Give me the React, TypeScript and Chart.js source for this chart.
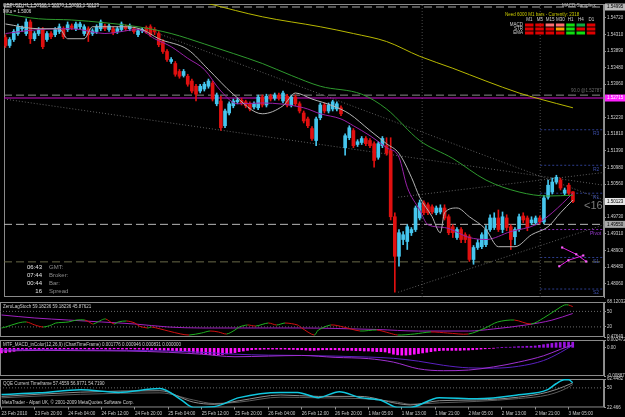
import { useEffect, useRef } from 'react';
import { Chart, registerables } from 'chart.js';

Chart.register(...registerables);

// ---------------- data ----------------
const tickLabels = ['23 Feb 2010', '23 Feb 20:00', '24 Feb 04:00', '24 Feb 12:00', '24 Feb 20:00', '25 Feb 04:00', '25 Feb 12:00', '25 Feb 20:00', '26 Feb 04:00', '26 Feb 12:00', '26 Feb 20:00', '1 Mar 05:00', '1 Mar 13:00', '1 Mar 21:00', '2 Mar 05:00', '2 Mar 13:00', '2 Mar 21:00', '3 Mar 05:00'];

const opens = [
  1.5423, 1.5403, 1.5418, 1.5433, 1.5445, 1.5433, 1.5462, 1.5420, 1.5433, 1.5443,
  1.5418, 1.5433, 1.5430, 1.5438, 1.5445, 1.5443, 1.5452, 1.5445, 1.5450, 1.5433,
  1.5445, 1.5433, 1.5438, 1.5445, 1.5452, 1.5443, 1.5445, 1.5438, 1.5443, 1.5450,
  1.5445, 1.5445, 1.5430, 1.5440, 1.5448, 1.5450, 1.5443, 1.5433, 1.5413, 1.5388,
  1.5363, 1.5358, 1.5338, 1.5328, 1.5326, 1.5314, 1.5301, 1.5289, 1.5294, 1.5301,
  1.5309, 1.5257, 1.5264, 1.5202, 1.5234, 1.5252, 1.5262, 1.5266, 1.5262, 1.5257,
  1.5249, 1.5247, 1.5274, 1.5254, 1.5276, 1.5271, 1.5279, 1.5264, 1.5276, 1.5254,
  1.5274, 1.5257, 1.5234, 1.5219, 1.5195, 1.5165, 1.5222, 1.5254, 1.5239, 1.5244,
  1.5244, 1.5247, 1.5147, 1.5172, 1.5190, 1.5155, 1.5160, 1.5170, 1.5165, 1.5157,
  1.5123, 1.5152, 1.5152, 1.5140, 1.4974, 1.4875, 1.4917, 1.4912, 1.4934, 1.4942,
  1.4971, 1.5009, 1.5004, 1.4999, 1.4984, 1.4986, 1.4996, 1.4974, 1.4949, 1.4922,
  1.4942, 1.4929, 1.4924, 1.4867, 1.4897, 1.4899, 1.4904, 1.4942, 1.4947, 1.4971,
  1.4942, 1.4971, 1.4949, 1.4924, 1.4942, 1.4976, 1.4971, 1.4959, 1.4959, 1.4971,
  1.4961, 1.5023, 1.5036, 1.5061, 1.5066, 1.5033, 1.5053, 1.50366,
];
const highs = [
  1.5430, 1.5423, 1.5443, 1.5457, 1.5452, 1.5470, 1.5467, 1.5438, 1.5448, 1.5448,
  1.5438, 1.5438, 1.5448, 1.5457, 1.5450, 1.5462, 1.5457, 1.5462, 1.5462, 1.5455,
  1.5450, 1.5445, 1.5455, 1.5467, 1.5457, 1.5457, 1.5450, 1.5450, 1.5462, 1.5455,
  1.5457, 1.5450, 1.5445, 1.5448, 1.5452, 1.5455, 1.5448, 1.5438, 1.5418, 1.5393,
  1.5373, 1.5363, 1.5343, 1.5343, 1.5331, 1.5319, 1.5306, 1.5306, 1.5311, 1.5319,
  1.5314, 1.5284, 1.5276, 1.5244, 1.5262, 1.5269, 1.5271, 1.5271, 1.5266, 1.5262,
  1.5262, 1.5279, 1.5279, 1.5281, 1.5281, 1.5284, 1.5284, 1.5289, 1.5281, 1.5279,
  1.5279, 1.5262, 1.5239, 1.5224, 1.5200, 1.5224, 1.5259, 1.5259, 1.5259, 1.5266,
  1.5262, 1.5252, 1.5182, 1.5202, 1.5195, 1.5167, 1.5175, 1.5175, 1.5170, 1.5162,
  1.5162, 1.5175, 1.5172, 1.5172, 1.4984, 1.4942, 1.4937, 1.4954, 1.4947, 1.5001,
  1.5016, 1.5014, 1.5009, 1.5004, 1.5001, 1.5004, 1.5004, 1.4979, 1.4954, 1.4947,
  1.4947, 1.4934, 1.4929, 1.4902, 1.4917, 1.4934, 1.4952, 1.4979, 1.4984, 1.4991,
  1.4986, 1.4979, 1.4954, 1.4947, 1.4981, 1.4984, 1.4976, 1.4974, 1.4976, 1.4976,
  1.5028, 1.5066, 1.5071, 1.5078, 1.5071, 1.5046, 1.5058, 1.50370,
];
const lows = [
  1.5398, 1.5398, 1.5413, 1.5428, 1.5438, 1.5428, 1.5408, 1.5415, 1.5428, 1.5395,
  1.5413, 1.5420, 1.5425, 1.5433, 1.5420, 1.5438, 1.5443, 1.5440, 1.5445, 1.5428,
  1.5413, 1.5428, 1.5433, 1.5440, 1.5440, 1.5438, 1.5430, 1.5433, 1.5438, 1.5440,
  1.5440, 1.5433, 1.5425, 1.5435, 1.5433, 1.5425, 1.5430, 1.5400, 1.5383, 1.5363,
  1.5358, 1.5326, 1.5321, 1.5324, 1.5301, 1.5284, 1.5264, 1.5284, 1.5289, 1.5296,
  1.5264, 1.5252, 1.5190, 1.5197, 1.5229, 1.5247, 1.5257, 1.5254, 1.5247, 1.5239,
  1.5244, 1.5242, 1.5249, 1.5249, 1.5264, 1.5266, 1.5266, 1.5259, 1.5249, 1.5249,
  1.5252, 1.5234, 1.5209, 1.5197, 1.5165, 1.5152, 1.5217, 1.5234, 1.5234, 1.5239,
  1.5239, 1.5227, 1.5128, 1.5167, 1.5147, 1.5150, 1.5155, 1.5152, 1.5147, 1.5098,
  1.5118, 1.5147, 1.5128, 1.4966, 1.4785, 1.4850, 1.4904, 1.4892, 1.4927, 1.4937,
  1.4966, 1.4979, 1.4979, 1.4981, 1.4979, 1.4981, 1.4966, 1.4929, 1.4922, 1.4917,
  1.4909, 1.4909, 1.4862, 1.4855, 1.4892, 1.4894, 1.4899, 1.4937, 1.4942, 1.4937,
  1.4934, 1.4939, 1.4892, 1.4904, 1.4937, 1.4959, 1.4939, 1.4954, 1.4954, 1.4956,
  1.4956, 1.5018, 1.5031, 1.5056, 1.5041, 1.5028, 1.5028, 1.50093,
];
const closes = [
  1.5403, 1.5418, 1.5438, 1.5450, 1.5448, 1.5462, 1.5420, 1.5433, 1.5443, 1.5400,
  1.5433, 1.5425, 1.5443, 1.5450, 1.5425, 1.5455, 1.5448, 1.5457, 1.5457, 1.5450,
  1.5430, 1.5440, 1.5450, 1.5462, 1.5445, 1.5452, 1.5435, 1.5445, 1.5457, 1.5445,
  1.5452, 1.5438, 1.5440, 1.5443, 1.5438, 1.5430, 1.5438, 1.5405, 1.5388, 1.5368,
  1.5368, 1.5331, 1.5326, 1.5338, 1.5306, 1.5289, 1.5281, 1.5301, 1.5306, 1.5314,
  1.5269, 1.5279, 1.5197, 1.5239, 1.5257, 1.5264, 1.5266, 1.5259, 1.5252, 1.5244,
  1.5257, 1.5274, 1.5254, 1.5276, 1.5269, 1.5279, 1.5271, 1.5284, 1.5254, 1.5274,
  1.5257, 1.5239, 1.5214, 1.5202, 1.5170, 1.5219, 1.5254, 1.5239, 1.5254, 1.5262,
  1.5257, 1.5232, 1.5177, 1.5197, 1.5152, 1.5162, 1.5170, 1.5157, 1.5152, 1.5115,
  1.5157, 1.5170, 1.5133, 1.4974, 1.4875, 1.4934, 1.4929, 1.4949, 1.4942, 1.4996,
  1.5009, 1.4984, 1.4984, 1.4986, 1.4996, 1.4996, 1.4971, 1.4934, 1.4934, 1.4942,
  1.4917, 1.4917, 1.4867, 1.4897, 1.4909, 1.4929, 1.4942, 1.4971, 1.4971, 1.4942,
  1.4974, 1.4947, 1.4917, 1.4942, 1.4974, 1.4966, 1.4947, 1.4966, 1.4971, 1.4961,
  1.5021, 1.5053, 1.5061, 1.5073, 1.5046, 1.5041, 1.5033, 1.50123,
];

// moving averages: [bar index, price]
const greenMA = [[0, 1.5482], [8, 1.5470], [16, 1.5467], [24, 1.5460], [32, 1.5450], [40, 1.5433], [48, 1.5407], [55, 1.5383], [62, 1.5358], [69, 1.5328], [76, 1.5301], [86, 1.5281], [92, 1.5244], [100, 1.5165], [108, 1.5120], [116, 1.5066], [124, 1.5036], [131, 1.5026], [137, 1.5028]];
const yellowMA = [[35, 1.5545], [49, 1.5508], [62, 1.5475], [76, 1.5450], [84, 1.5433], [92, 1.5413], [100, 1.5376], [108, 1.5346], [116, 1.5314], [124, 1.5284], [129, 1.5269], [137, 1.5247]];
const purpleEMA = [[0, 1.5433], [8, 1.5443], [16, 1.5445], [24, 1.5433], [32, 1.5443], [36, 1.5420], [40, 1.5400], [44, 1.5371], [48, 1.5343], [52, 1.5289], [56, 1.5257], [62, 1.5259], [72, 1.5247], [76, 1.5232], [81, 1.5219], [84, 1.5202], [88, 1.5177], [92, 1.5147], [95, 1.5123], [97, 1.5048], [100, 1.4991], [102, 1.4954], [106, 1.4947], [112, 1.4922], [116, 1.4917], [122, 1.4937], [128, 1.4954], [132, 1.4984], [137, 1.5033]];
const grayMA = [[0, 1.5457], [8, 1.5445], [13, 1.5445], [15, 1.5420], [19, 1.5420], [21, 1.5450], [29, 1.5450], [33, 1.5443], [37, 1.5420], [44, 1.5393], [49, 1.5343], [55, 1.5281], [62, 1.5232], [67, 1.5252], [70, 1.5284], [74, 1.5269], [79, 1.5252], [83, 1.5232], [88, 1.5190], [92, 1.5157], [95, 1.5133], [98, 1.5073], [100, 1.5023], [103, 1.4974], [105, 1.4934], [106, 1.4984], [109, 1.4996], [112, 1.4974], [116, 1.4942], [119, 1.4899], [123, 1.4899], [127, 1.4929], [131, 1.4949], [134, 1.4984], [137, 1.5016]];

// chart objects
const highLine = 1.54995;
const levelLine = 1.52787;
const magentaLine = 1.52715;
const bidLine = 1.50123;
const lightLine = 1.4955;
const oliveLine = 1.4861;
const trendLines = [
  [[-0.36, 1.5269], [144.5, 1.5053]],
  [[35.6, 1.5438], [144.5, 1.5016]],
  [[94.8, 1.4785], [144.5, 1.4954]],
  [[94.8, 1.5023], [144.5, 1.5085]],
];
const separatorBars = [100.6, 129.1];
const pivotNames = ['R3', 'R2', 'R1', 'Pivot', 'S1', 'S2'];
const pivotValues = [1.5192, 1.5103, 1.5033, 1.4942, 1.4872, 1.4793];
const pivotStartBar = 129.1;
const patternA = [[134.4, 1.4897], [137.8, 1.4880], [140.2, 1.4862]];
const patternB = [[133.7, 1.4850], [135.9, 1.4865], [139.5, 1.4877]];
const priceTicks = [1.5472, 1.5431, 1.5389, 1.5348, 1.5306, 1.5223, 1.5181, 1.5139, 1.5098, 1.5056, 1.4973, 1.4931, 1.4890, 1.4848, 1.4806];
const markerValues = [highLine, magentaLine, bidLine, lightLine];

// texts
const titleText = 'GBPUSD,H1 1.50366 1.50370 1.50093 1.50123';
const subTitleText = 'MKu = 1.5006';
const eaName = 'MACD-Sample-x';
const needText = 'Need 6000 M1 bars - Currently: 2318';
const tfLabels = ['M1', 'M5', 'M15', 'M30', 'H1', 'H4', 'D1'];
const rowLabels = ['MACD', 'STR', 'EMA'];
const signalRows = [
  ['dn', 'dn', 'wdn', 'wdn', 'up', 'wup', 'dn'],
  ['dn', 'dn', 'dn', 'flat', 'up', 'dn', 'dn'],
  ['dn', 'dn', 'dn', 'dn', 'up', 'up', 'dn'],
];
const timeValues = ['06:43', '07:44', '00:44', '16'];
const timeNames = ['GMT:', 'Broker:', 'Bar:', 'Spread'];
const spreadText = '<16.0';
const levelText = '90.0 @1.52787';
const footerText = 'MetaTrader - Alpari UK, \u00A9 2001-2009 MetaQuotes Software Corp.';

// ZeroLagStoch
const stochTitle = 'ZeroLagStoch 59.18236 59.18236 45.87621';
const stochMain = [[0, 17.9], [1, 19.8], [4, 27.5], [6, 29.5], [8, 23.7], [10, 19.8], [12, 23.7], [13, 27.5], [16, 29.5], [18, 33.3], [20, 33.3], [21, 29.5], [22, 25.6], [24, 33.3], [25, 35.3], [27, 25.6], [28, 29.5], [30, 31.4], [32, 27.5], [33, 21.7], [35, 17.9], [36, 19.8], [40, 12.1], [43, 6.3], [45, 4.3], [48, 8.2], [50, 12.1], [52, 10.2], [54, 6.3], [56, 14.0], [57, 19.8], [59, 23.7], [61, 21.7], [64, 27.5], [66, 23.7], [68, 27.5], [71, 23.7], [72, 17.9], [75, 4.3], [76, 14.0], [79, 23.7], [82, 19.8], [86, 12.1], [90, 14.0], [93, 8.2], [95, 4.3], [99, 6.3], [103, 10.2], [107, 8.2], [112, 6.3], [116, 17.9], [119, 29.5], [123, 33.3], [127, 25.6], [130, 37.2], [133, 52.7], [135, 62.3], [136, 62.3], [137, 59.18]];
const stochSignal = [[0, 43.0], [8, 37.2], [16, 33.3], [24, 29.5], [32, 25.6], [40, 19.8], [48, 17.9], [56, 17.9], [64, 17.9], [72, 17.9], [80, 17.0], [90, 15.0], [100, 12.0], [112, 12.0], [118, 16.0], [126, 24.0], [132, 33.0], [137, 45.88]];
const stochLevels = [50, 20];
const stochTicks = [68.12032, 50, 20, 0.47649];

// MTF MACD
const macdTitle = 'MTF_MACD_inColor(12,26,9) (ChartTimeFrame) 0.001776 0.000946 0.000831 0.000000';
const macdHist = [
  -0.0016, -0.0015, -0.0013, -0.0011, -0.0006, -0.0005, -0.0005, -0.0004, -0.0004, -0.0005,
  -0.0004, -0.0004, -0.0003, -0.0004, -0.0004, -0.0003, -0.0003, -0.0004, -0.0004, -0.0003,
  -0.0003, -0.0004, -0.0004, -0.0003, -0.0003, -0.0004, -0.0004, -0.0003, -0.0003, -0.0004,
  -0.0004, -0.0003, -0.0004, -0.0004, -0.0005, -0.0005, -0.0006, -0.0006, -0.0007, -0.0008,
  -0.0008, -0.0009, -0.0010, -0.0011, -0.0012, -0.0013, -0.0014, -0.0016, -0.0018, -0.0020,
  -0.0021, -0.0022, -0.0022, -0.0021, -0.0019, -0.0017, -0.0015, -0.0012, -0.0010, -0.0008,
  -0.0006, -0.0005, -0.0005, -0.0004, -0.0004, -0.0004, -0.0004, -0.0004, -0.0004, -0.0005,
  -0.0005, -0.0006, -0.0006, -0.0007, -0.0008, -0.0008, -0.0007, -0.0006, -0.0006, -0.0006,
  -0.0006, -0.0007, -0.0008, -0.0008, -0.0008, -0.0009, -0.0009, -0.0010, -0.0010, -0.0011,
  -0.0012, -0.0012, -0.0013, -0.0016, -0.0020, -0.0022, -0.0023, -0.0023, -0.0022, -0.0020,
  -0.0018, -0.0016, -0.0014, -0.0012, -0.0010, -0.0009, -0.0008, -0.0008, -0.0008, -0.0008,
  -0.0008, -0.0007, -0.0007, -0.0006, -0.0005, -0.0004, -0.0003, -0.0002, -0.0001, 0.0000,
  0.0001, 0.0002, 0.0002, 0.0003, 0.0004, 0.0004, 0.0005, 0.0005, 0.0006, 0.0008,
  0.0010, 0.0012, 0.0014, 0.0016, 0.0017, 0.0018, 0.0018, 0.001776,
];
const macdMain = [[0, -0.0010], [10, -0.0008], [20, -0.0009], [30, -0.0010], [40, -0.0014], [48, -0.0020], [56, -0.0028], [64, -0.0026], [72, -0.0024], [80, -0.0030], [88, -0.0034], [94, -0.0045], [100, -0.0066], [106, -0.0072], [112, -0.0070], [118, -0.0060], [124, -0.0045], [130, -0.0025], [134, -0.0005], [137, 0.000946]];
const macdSignal = [[0, -0.0006], [10, -0.0006], [20, -0.0007], [30, -0.0008], [40, -0.0010], [48, -0.0014], [56, -0.0020], [64, -0.0023], [72, -0.0024], [80, -0.0026], [88, -0.0029], [94, -0.0033], [100, -0.0042], [106, -0.0055], [112, -0.0063], [118, -0.0064], [124, -0.0058], [130, -0.0040], [134, -0.0015], [137, 0.000831]];
const macdTicks = [0.002472, 0, -0.00887];

// QQE
const qqeTitle = 'QQE Current Timeframe 57.4559 56.9771 54.7190';
const qqeMain = [[0, 40.8], [9, 43.0], [19, 47.5], [28, 43.6], [38, 49.1], [43, 33.6], [46, 22.5], [51, 23.6], [57, 36.3], [67, 43.6], [71, 43.6], [76, 36.3], [81, 44.7], [86, 36.3], [91, 32.5], [95, 22.5], [98, 22.5], [105, 36.3], [114, 34.7], [124, 40.2], [131, 47.5], [133, 55.8], [135, 61.3], [136, 61.3], [137, 57.4559]];
const qqeSlow = [[0, 38], [19, 44], [38, 46], [46, 30], [51, 27], [57, 32], [67, 40], [76, 38], [86, 38], [95, 28], [98, 26], [105, 32], [114, 33], [124, 37], [131, 44], [135, 52], [137, 56.9771]];
const qqeTrail = [[0, 36], [19, 41], [38, 43], [46, 33], [51, 28], [57, 30], [67, 37], [76, 36], [86, 35], [95, 30], [98, 27], [105, 29], [114, 31], [124, 35], [131, 40], [135, 48], [137, 54.719]];
const qqeLevels = [50];
const qqeTicks = [62.4482, 50, 22.466];

// ---------------- config ----------------
const X_MIN = -0.36;
const X_MAX = 144.5;
const PRICE_MIN = 1.4773;
const PRICE_MAX = 1.5507;
const FONT = '"Liberation Sans", Arial, sans-serif';
const SMALL = 4.5;
const BULL = '#46c6ee';
const BEAR = '#e01010';

const pts = (arr: number[][]) => arr.map(([x, y]) => ({ x, y }));
const hpts = (v: number, from = X_MIN) => [{ x: from, y: v }, { x: X_MAX, y: v }];

const lineDs = (data: any[], color: string, width: number, extra: any = {}) => ({
  type: 'line', data, borderColor: color, borderWidth: width, pointRadius: 0,
  fill: false, cubicInterpolationMode: 'monotone', order: 1, ...extra,
});
const refDs = (data: any[], color: string, dash: number[], width = 1) => ({
  type: 'line', data, borderColor: color, borderWidth: width, borderDash: dash,
  pointRadius: 0, fill: false, tension: 0, order: 6,
});

const xScale = (show: boolean) => ({
  type: 'linear', min: X_MIN, max: X_MAX, display: show, offset: false,
  grid: { display: true, drawOnChartArea: false, drawTicks: true, tickLength: 2, color: '#909090' },
  border: { display: false },
  afterBuildTicks: (s: any) => { s.ticks = tickLabels.map((_, k) => ({ value: k * 8 })); },
  ticks: {
    autoSkip: false, maxRotation: 0, minRotation: 0, align: 'start', padding: 1,
    color: '#c8c8c8', font: { family: FONT, size: 4.6 },
    callback: (_v: any, i: number) => tickLabels[i],
  },
});

const yScale = (min: number, max: number, ticks: number[], fmt: (v: number) => string) => ({
  type: 'linear', position: 'right', min, max,
  grid: { display: true, drawOnChartArea: false, drawTicks: true, tickLength: 2, color: '#909090' },
  border: { display: true, color: '#909090' },
  afterBuildTicks: (s: any) => { s.ticks = ticks.map((v) => ({ value: v })); },
  afterFit: (s: any) => { s.width = 21; s.paddingTop = 0; s.paddingBottom = 0; },
  ticks: { autoSkip: false, padding: 1, color: '#d0d0d0', font: { family: FONT, size: SMALL }, callback: (v: any) => fmt(Number(v)) },
});

const framePlugin = {
  id: 'frame',
  beforeDatasetsDraw(chart: any) {
    const { ctx, chartArea: a } = chart;
    ctx.save();
    ctx.strokeStyle = '#8a8a8a';
    ctx.lineWidth = 1;
    ctx.strokeRect(a.left + 0.5, a.top + 0.5, a.right - a.left - 1, a.bottom - a.top - 1);
    ctx.restore();
  },
};

const titlePlugin = (text: string, extra?: (chart: any) => void) => ({
  id: 'title_' + text.slice(0, 4),
  afterDraw(chart: any) {
    const { ctx, chartArea: a } = chart;
    ctx.save();
    ctx.font = `${SMALL}px ${FONT}`;
    ctx.textBaseline = 'middle';
    ctx.textAlign = 'left';
    ctx.fillStyle = '#d0d0d0';
    ctx.fillText(text, a.left + 3, a.top + 5);
    if (extra) extra(chart);
    ctx.restore();
  },
});

const signalColor = (s: string) => (s === 'up' ? '#10e010' : s === 'wup' ? '#10a840' : s === 'wdn' ? '#ff7070' : s === 'flat' ? '#ffa000' : '#e00000');
const markerStyles = [
  { bg: '#b8b8b8', fg: '#000000' },
  { bg: '#ff20ff', fg: '#ffffff' },
  { bg: '#e8e8e8', fg: '#000000' },
  { bg: '#a8a8a8', fg: '#000000' },
];

const mainTextPlugin = {
  id: 'mainText',
  afterDraw(chart: any) {
    const { ctx, chartArea: a } = chart;
    const y = chart.scales.y;
    ctx.save();
    ctx.textBaseline = 'middle';
    ctx.font = `${SMALL}px ${FONT}`;
    ctx.textAlign = 'left';
    ctx.fillStyle = '#e0e0e0';
    ctx.fillText(titleText, 3, 6);
    ctx.fillText(subTitleText, 3, 12);
    ctx.fillStyle = '#c0c0c0';
    ctx.fillText(eaName, 562, 6);
    ctx.fillStyle = '#c8c800';
    ctx.fillText(needText, 505, 15);
    // signal table
    ctx.textAlign = 'center';
    ctx.fillStyle = '#d0d0d0';
    tfLabels.forEach((t, k) => ctx.fillText(t, 529.5 + k * 10.3, 20));
    rowLabels.forEach((r, j) => {
      ctx.textAlign = 'right';
      ctx.fillStyle = '#d0d0d0';
      ctx.fillText(r, 523, 25 + j * 4);
      signalRows[j].forEach((s, k) => {
        ctx.fillStyle = signalColor(s);
        ctx.fillRect(525 + k * 10.3, 23.5 + j * 4, 8.5, 3);
      });
    });
    // level text
    ctx.textAlign = 'left';
    ctx.fillStyle = '#6c6c6c';
    ctx.fillText(levelText, 571, y.getPixelForValue(levelLine) - 4);
    // pivots
    ctx.font = `5px ${FONT}`;
    pivotNames.forEach((n, k) => {
      ctx.fillStyle = n === 'Pivot' ? '#9a3ad0' : '#3c4ea8';
      ctx.fillText(n, n === 'Pivot' ? 590 : 593, y.getPixelForValue(pivotValues[k]) + 4);
    });
    // time block
    ctx.font = `6px ${FONT}`;
    timeValues.forEach((v, k) => {
      ctx.textAlign = 'right';
      ctx.fillStyle = '#e8e8e8';
      ctx.fillText(v, 42, 267 + k * 8);
      ctx.textAlign = 'left';
      ctx.fillStyle = '#8c8c8c';
      ctx.fillText(timeNames[k], 49, 267 + k * 8);
    });
    // spread
    ctx.save();
    ctx.beginPath();
    ctx.rect(a.left, a.top, a.right - a.left, a.bottom - a.top);
    ctx.clip();
    ctx.font = `11px ${FONT}`;
    ctx.fillStyle = '#7c7c7c';
    ctx.fillText(spreadText, 584, y.getPixelForValue(bidLine) + 4);
    ctx.restore();
    // price markers
    ctx.font = `${SMALL}px ${FONT}`;
    markerValues.forEach((v, k) => {
      const py = y.getPixelForValue(v);
      ctx.fillStyle = markerStyles[k].bg;
      ctx.fillRect(a.right + 1, py - 3.5, 21, 7);
      ctx.fillStyle = markerStyles[k].fg;
      ctx.textAlign = 'left';
      ctx.fillText(v.toFixed(5), a.right + 3, py);
    });
    ctx.restore();
  },
};

function mainConfig(): any {
  const colors = opens.map((o, i) => (closes[i] >= o ? BULL : BEAR));
  const datasets: any[] = [
    { type: 'bar', data: highs.map((h, i) => ({ x: i, y: [lows[i], h] })), backgroundColor: colors, barThickness: 1, grouped: false, order: 4 },
    { type: 'bar', data: opens.map((o, i) => ({ x: i, y: [o, closes[i]] })), backgroundColor: colors, barThickness: 3, grouped: false, minBarLength: 1, order: 3 },
    lineDs(pts(yellowMA), '#b8b800', 1),
    lineDs(pts(greenMA), '#2e9a2e', 1),
    lineDs(pts(grayMA), '#b4b4b4', 1),
    lineDs(pts(purpleEMA), '#9a20a8', 1),
    refDs(hpts(highLine), '#a8a8a8', [8, 4]),
    refDs(hpts(levelLine), '#8a8a8a', [8, 4]),
    refDs(hpts(magentaLine), '#d010d0', [], 1.2),
    refDs(hpts(lightLine), '#b8b8b8', [8, 4]),
    refDs(hpts(oliveLine), '#6a6a48', [8, 4]),
    ...trendLines.map((t) => refDs(pts(t), '#5e5e5e', [1, 2])),
    ...separatorBars.map((b) => refDs([{ x: b, y: PRICE_MIN }, { x: b, y: PRICE_MAX }], '#4a4a4a', [1, 2])),
    ...pivotValues.map((v, k) => refDs(hpts(v, pivotStartBar), pivotNames[k] === 'Pivot' ? '#8a2ab8' : '#2c3c8c', [2, 2])),
    { type: 'line', data: pts(patternA), borderColor: '#e020e0', borderWidth: 1, pointStyle: 'rect', pointRadius: 1.5, pointBackgroundColor: '#ff60ff', pointBorderWidth: 0, tension: 0, order: 0 },
    { type: 'line', data: pts(patternB), borderColor: '#e020e0', borderWidth: 1, pointStyle: 'rect', pointRadius: 1.5, pointBackgroundColor: '#ff60ff', pointBorderWidth: 0, tension: 0, order: 0 },
  ];
  return {
    type: 'bar',
    data: { datasets },
    options: {
      responsive: false, animation: false, devicePixelRatio: 1,
      layout: { padding: { top: 2, bottom: 3, left: 0, right: 0 } },
      plugins: { legend: { display: false }, tooltip: { enabled: false } },
      scales: { x: xScale(false), y: yScale(PRICE_MIN, PRICE_MAX, priceTicks, (v) => v.toFixed(5)) },
    },
    plugins: [framePlugin, mainTextPlugin],
  };
}

function stochConfig(): any {
  const datasets: any[] = [
    lineDs(pts(stochMain), '#20b020', 1, {
      cubicInterpolationMode: 'default', tension: 0.3,
      segment: { borderColor: (c: any) => (c.p1.parsed.y >= c.p0.parsed.y ? '#20b020' : '#d01010') },
    }),
    lineDs(pts(stochSignal), '#a020c0', 1),
    ...stochLevels.map((v) => refDs(hpts(v), '#6a6a6a', [1, 2])),
  ];
  return {
    type: 'line',
    data: { datasets },
    options: {
      responsive: false, animation: false, devicePixelRatio: 1,
      layout: { padding: { top: 4, bottom: 3, left: 0, right: 0 } },
      plugins: { legend: { display: false }, tooltip: { enabled: false } },
      scales: { x: xScale(false), y: yScale(0.47649, 68.12032, stochTicks, (v) => String(v)) },
    },
    plugins: [framePlugin, titlePlugin(stochTitle)],
  };
}

function macdConfig(): any {
  const datasets: any[] = [
    { type: 'bar', data: macdHist.map((v, i) => ({ x: i, y: v })), backgroundColor: macdHist.map((v) => (v >= 0 ? '#9a10e0' : '#ff10ff')), barThickness: 2, grouped: false, order: 3 },
    lineDs(pts(macdMain), '#a030d0', 1),
    lineDs(pts(macdSignal), '#5a20c0', 1),
  ];
  return {
    type: 'bar',
    data: { datasets },
    options: {
      responsive: false, animation: false, devicePixelRatio: 1,
      layout: { padding: { top: 4, bottom: 3, left: 0, right: 0 } },
      plugins: { legend: { display: false }, tooltip: { enabled: false } },
      scales: { x: xScale(false), y: yScale(-0.00887, 0.002472, macdTicks, (v) => (v === 0 ? '0.00' : String(v))) },
    },
    plugins: [framePlugin, titlePlugin(macdTitle)],
  };
}

function qqeConfig(): any {
  const datasets: any[] = [
    lineDs(pts(qqeMain), '#10c8e0', 1.5),
    lineDs(pts(qqeSlow), '#8c8c8c', 1, { order: 2 }),
    lineDs(pts(qqeTrail), '#5c5c5c', 1, { order: 2 }),
    ...qqeLevels.map((v) => refDs(hpts(v), '#6a6a6a', [1, 2])),
  ];
  const footer = (chart: any) => {
    const { ctx, chartArea: a } = chart;
    ctx.fillStyle = '#d0d0d0';
    ctx.fillText(footerText, a.left + 2, a.bottom - 5);
  };
  return {
    type: 'line',
    data: { datasets },
    options: {
      responsive: false, animation: false, devicePixelRatio: 1,
      layout: { padding: { top: 4, bottom: 0, left: 0, right: 0 } },
      plugins: { legend: { display: false }, tooltip: { enabled: false } },
      scales: { x: xScale(true), y: yScale(22.466, 62.4482, qqeTicks, (v) => String(v)) },
    },
    plugins: [framePlugin, titlePlugin(qqeTitle, footer)],
  };
}

export default function App() {
  const mainRef = useRef<HTMLCanvasElement>(null);
  const s1Ref = useRef<HTMLCanvasElement>(null);
  const s2Ref = useRef<HTMLCanvasElement>(null);
  const s3Ref = useRef<HTMLCanvasElement>(null);

  useEffect(() => {
    const charts: Chart[] = [];
    if (mainRef.current) charts.push(new Chart(mainRef.current, mainConfig()));
    if (s1Ref.current) charts.push(new Chart(s1Ref.current, stochConfig()));
    if (s2Ref.current) charts.push(new Chart(s2Ref.current, macdConfig()));
    if (s3Ref.current) charts.push(new Chart(s3Ref.current, qqeConfig()));
    return () => charts.forEach((c) => c.destroy());
  }, []);

  const cv = (top: number) => ({ position: 'absolute' as const, left: 0, top });
  return (
    <div style={{ position: 'fixed', left: 0, top: 0, width: 625, height: 417, background: '#000', overflow: 'hidden' }}>
      <canvas ref={mainRef} width={625} height={301} style={cv(0)} />
      <canvas ref={s1Ref} width={625} height={42} style={cv(298)} />
      <canvas ref={s2Ref} width={625} height={43} style={cv(336)} />
      <canvas ref={s3Ref} width={625} height={42} style={cv(375)} />
    </div>
  );
}
